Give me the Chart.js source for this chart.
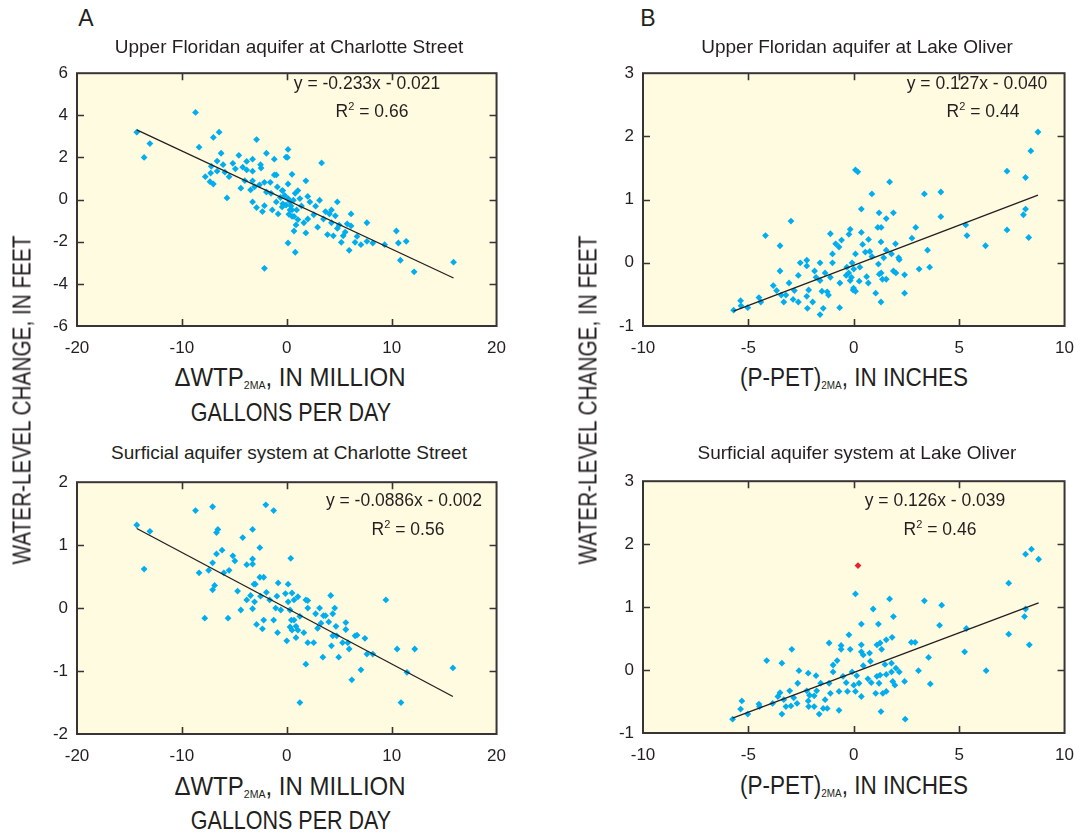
<!DOCTYPE html>
<html>
<head>
<meta charset="utf-8">
<script src="https://cdn.jsdelivr.net/npm/chart.js@4.4.0/dist/chart.umd.min.js"></script>
<style>
body{margin:0;background:#fff;width:1086px;height:835px;position:relative;overflow:hidden;font-family:"Liberation Sans",Arial,sans-serif;color:#231f20}
canvas{position:absolute}
.t{position:absolute;transform:translate(-50%,-50%);white-space:nowrap;line-height:1}
.ttl{font-size:19px}
.eq{font-size:17.5px}
.ax{font-size:25px}
.yt{transform:translate(-50%,-50%) rotate(-90deg) scaleX(0.83)}
.sub{font-size:11px;vertical-align:-3px}
.sup{font-size:11px;vertical-align:7px}
</style>
</head>
<body>
<canvas id="tl"></canvas>
<canvas id="tr"></canvas>
<canvas id="bl"></canvas>
<canvas id="br"></canvas>

<div class="t" style="left:86px;top:18px;font-size:23px">A</div>
<div class="t" style="left:648px;top:18px;font-size:23px">B</div>

<div class="t ttl" style="left:289px;top:46px">Upper Floridan aquifer at Charlotte Street</div>
<div class="t ttl" style="left:857px;top:46px">Upper Floridan aquifer at Lake Oliver</div>
<div class="t ttl" style="left:289px;top:452px">Surficial aquifer system at Charlotte Street</div>
<div class="t ttl" style="left:857px;top:452px">Surficial aquifer system at Lake Oliver</div>

<div class="t eq" style="left:367px;top:84px">y = -0.233x - 0.021</div>
<div class="t eq" style="left:372px;top:111px">R<span class="sup">2</span> = 0.66</div>
<div class="t eq" style="left:977px;top:84px">y = 0.127x - 0.040</div>
<div class="t eq" style="left:983px;top:111px">R<span class="sup">2</span> = 0.44</div>
<div class="t eq" style="left:404px;top:501px">y = -0.0886x - 0.002</div>
<div class="t eq" style="left:408px;top:529px">R<span class="sup">2</span> = 0.56</div>
<div class="t eq" style="left:935px;top:501px">y = 0.126x - 0.039</div>
<div class="t eq" style="left:940px;top:529px">R<span class="sup">2</span> = 0.46</div>

<div class="t ax" style="left:290px;top:378px;transform:translate(-50%,-50%) scaleX(0.96)">&Delta;WTP<span class="sub">2MA</span>, IN MILLION</div>
<div class="t ax" style="left:291px;top:412px;transform:translate(-50%,-50%) scaleX(0.86)">GALLONS PER DAY</div>
<div class="t ax" style="left:290px;top:787px;transform:translate(-50%,-50%) scaleX(0.96)">&Delta;WTP<span class="sub">2MA</span>, IN MILLION</div>
<div class="t ax" style="left:291px;top:820px;transform:translate(-50%,-50%) scaleX(0.86)">GALLONS PER DAY</div>
<div class="t ax" style="left:854px;top:378px;transform:translate(-50%,-50%) scaleX(0.9)">(P-PET)<span class="sub">2MA</span>, IN INCHES</div>
<div class="t ax" style="left:854px;top:786px;transform:translate(-50%,-50%) scaleX(0.9)">(P-PET)<span class="sub">2MA</span>, IN INCHES</div>

<div class="t ax yt" style="left:22px;top:400px">WATER-LEVEL CHANGE, IN FEET</div>
<div class="t ax yt" style="left:588px;top:400px">WATER-LEVEL CHANGE, IN FEET</div>

<script>
// ---- data ----
// Upper Floridan aquifer at Charlotte Street: [dWTP, change]
const ufaCharlotte = [
  [-14.3,3.2],[-13.6,2.0],[-13.05,2.66],[-8.7,4.14],[-8.36,2.49],[-7.0,2.95],[-6.45,3.2],[-6.26,2.2],[-6.64,1.83],[-7.2,1.58],
  [-7.77,1.09],[-7.26,1.26],[-7.32,0.85],[-7.0,0.74],[-6.64,1.35],[-6.07,1.66],[-5.7,0.08],[-5.5,1.09],[-5.14,1.72],[-4.9,1.46],
  [-4.57,2.1],[-4.38,0.54],[-4.2,1.54],[-3.82,1.81],[-3.82,1.41],[-3.26,1.92],[-3.26,1.35],[-2.88,2.85],[-3.26,0.89],[-3.45,0.46],
  [-3.07,0.61],[-2.5,1.66],[-2.45,1.5],[-1.94,2.2],[-2.13,0.82],[-1.94,0.36],[-3.26,-0.11],[-2.88,-0.38],[-2.32,-0.57],[-2.13,-0.29],
  [-1.57,0.82],[-1.38,-0.49],[-1.19,1.92],[-1.19,1.17],[-1.0,1.17],[-1.0,-0.11],[-0.82,-0.68],[-0.44,0.43],[-0.38,0.43],[-0.07,2.02],
  [0.12,2.38],[0.5,1.2],[0.12,0.74],[0.12,-2.06],[0.81,-2.5],[-2.13,-3.26],[0.69,-1.49],[0.5,-0.8],[0.31,-0.49],[-0.38,-0.2],
  [-0.44,-0.35],[-0.07,-0.26],[0.06,2.0],[1.06,0.43],[1.82,0.89],[3.32,1.74],[0.13,0.05],[0.63,-0.03],[1.25,0.05],[2.0,0.15],
  [2.2,-0.11],[3.13,-0.03],[4.82,-0.11],[0.5,-0.49],[0.94,-0.49],[0.69,-0.8],[1.06,-0.95],[0.88,-1.2],[1.63,-1.1],[1.82,-1.58],
  [2.0,-0.92],[2.57,-0.72],[2.75,-0.31],[2.94,-1.31],[3.5,-0.92],[3.69,-0.57],[4.07,-0.68],[4.26,-0.49],[4.63,-0.77],[4.26,-1.1],
  [3.88,-1.66],[4.44,-1.72],[4.82,-1.37],[5.0,-1.21],[5.2,-2.03],[5.38,-1.72],[5.57,-1.54],[5.76,-1.15],[5.95,-2.41],[6.13,-1.25],
  [6.13,-0.68],[6.51,-2.03],[6.7,-1.75],[7.07,-2.14],[7.64,-1.1],[7.64,-1.98],[8.2,-2.06],[9.33,-2.14],[10.45,-1.49],[10.64,-2.06],
  [10.83,-2.88],[11.39,-1.98],[12.14,-3.43],[15.9,-2.97],
  [0.3,-0.1],[-0.2,0.2],[0.4,-0.3],[-0.6,0.1],[0.2,-0.7],[0.8,0.3],[-1.5,0.3],[-0.9,0.6],[1.4,-0.3],[-2.6,0.7],[-4.0,0.9],[-5.9,1.3]
];
const ufaCharlotteFit = [[-14.3,3.31],[15.9,-3.72]];

// Upper Floridan aquifer at Lake Oliver: [P-PET, change]
const ufaOliver = [
  [-5.7,-0.75],[-5.37,-0.6],[-5.35,-0.68],[-5.03,-0.71],[-4.5,-0.55],[-4.41,-0.62],[-4.19,0.43],[-3.82,-0.36],[-3.66,-0.44],[-3.5,-0.13],
  [-3.5,0.27],[-3.44,-0.51],[-3.32,-0.62],[-3.22,-0.51],[-3.07,-0.32],[-2.98,0.66],[-2.88,-0.58],[-2.82,-0.44],[-2.63,-0.62],[-2.63,-0.2],
  [-2.54,0.0],[-2.23,0.04],[-2.23,-0.05],[-2.23,-0.53],[-2.2,-0.72],[-2.14,-0.43],[-1.95,-0.62],[-1.86,-0.13],[-1.79,-0.23],[-1.6,0.0],
  [-1.6,-0.82],[-1.6,-0.28],[-1.51,-0.45],[-1.45,-0.72],[-1.36,-0.16],[-1.26,-0.46],[-1.2,-0.51],[-1.11,0.46],[-1.11,-0.23],[-1.01,0.14],
  [-1.01,0.0],[-0.86,0.3],[-0.7,0.25],[-0.67,-0.71],[-0.66,-0.32],[-0.58,0.36],[-0.36,-0.2],[-0.23,0.45],[-0.17,0.53],[-0.08,0.0],
  [0.08,1.47],[0.08,0.14],[-0.03,-0.43],[-0.17,-0.28],[0.19,1.44],[0.86,1.09],[0.36,0.85],[1.7,1.28],[1.2,0.79],[1.88,0.79],
  [1.54,0.7],[1.14,0.56],[1.3,0.56],[0.36,0.48],[0.7,0.37],[0.42,0.29],[1.29,0.33],[1.98,0.3],[0.55,0.17],[0.76,0.18],
  [0.86,0.1],[1.54,0.2],[1.79,0.14],[2.16,0.05],[2.13,0.08],[2.94,0.56],[2.76,0.39],[3.35,1.09],[3.5,0.2],[4.13,1.12],
  [4.13,0.73],[3.1,-0.1],[3.6,-0.07],[2.41,-0.19],[2.41,-0.48],[1.29,-0.62],[1.04,-0.48],[0.08,-0.45],[-0.01,-0.4],[0.26,-0.29],
  [0.69,-0.32],[0.61,-0.22],[1.21,-0.18],[1.17,-0.02],[1.3,-0.16],[1.36,-0.26],[1.54,-0.26],[1.42,0.08],[1.88,-0.13],[2.0,-0.16],
  [-0.11,-0.23],[-0.33,-0.07],[-0.24,-0.16],[0.29,-0.07],[0.0,-0.1],[5.31,0.6],[5.37,0.43],[6.25,0.27],[7.27,1.45],[7.27,0.52],
  [8.15,1.35],[8.05,0.76],[8.15,0.85],[8.3,0.4],[8.4,1.77],[8.74,2.07]
];
const ufaOliverFit = [[-5.7,-0.764],[8.74,1.07]];

// Surficial aquifer system at Charlotte Street
const sasCharlotte = [
  [-14.3,1.32],[-13.6,0.62],[-13.05,1.22],[-8.7,1.55],[-7.07,1.61],[-8.36,0.56],[-7.82,-0.16],[-7.07,0.29],[-6.88,0.36],[-7.45,0.6],
  [-7.07,0.72],[-6.7,0.86],[-6.17,0.92],[-6.7,1.2],[-6.57,1.25],[-6.0,0.56],[-5.6,-0.16],[-5.5,0.6],[-5.14,0.83],[-4.95,0.75],
  [-4.69,0.27],[-4.38,-0.03],[-4.2,1.12],[-3.82,0.69],[-3.82,0.13],[-3.45,0.2],[-3.26,1.25],[-3.26,0.78],[-3.26,0.7],[-3.13,0.38],
  [-3.0,0.38],[-3.07,0.1],[-3.26,-0.01],[-2.88,-0.26],[-2.57,0.96],[-2.57,0.49],[-2.2,0.49],[-2.5,0.19],[-2.32,-0.33],[-2.2,-0.19],
  [-2.0,1.64],[-1.25,1.55],[-1.94,0.25],[-1.63,0.13],[-1.25,-0.19],[-1.06,0.0],[-0.94,0.19],[-0.88,-0.39],[-0.82,0.4],[-0.57,-0.03],
  [-0.13,0.23],[0.0,-0.52],[0.13,0.38],[0.38,0.79],[0.31,-0.3],[0.44,-0.19],[0.5,0.24],[0.69,0.13],[1.06,0.18],[0.13,0.1],
  [0.31,-0.03],[0.69,-0.19],[0.88,-0.29],[0.5,-0.35],[1.25,-0.13],[1.06,-0.35],[0.88,-0.47],[1.63,-0.39],[2.0,0.12],[2.0,0.0],
  [1.82,0.13],[2.0,-0.55],[2.57,-0.55],[2.75,-0.09],[2.94,-0.32],[3.13,0.0],[3.26,-0.24],[3.5,-0.12],[3.69,-0.12],[4.0,-0.22],
  [4.19,0.2],[4.38,-0.09],[4.57,0.0],[4.38,-0.44],[4.26,-0.6],[4.69,-0.29],[4.76,-0.44],[3.44,-0.78],[1.82,-0.89],[1.25,-1.5],
  [4.95,-0.78],[5.32,-0.55],[5.63,-0.23],[5.63,-0.34],[5.82,-0.55],[5.95,-0.65],[6.2,-1.14],[6.51,-0.44],[6.7,-0.43],[7.07,-0.98],
  [7.45,-0.48],[7.64,-0.73],[8.2,-0.73],[9.45,0.13],[10.52,-0.65],[10.89,-1.5],[11.46,-1.02],[12.2,-0.65],[15.84,-0.95]
];
const sasCharlotteFit = [[-14.3,1.265],[15.84,-1.405]];

// Surficial aquifer system at Lake Oliver
const sasOliver = [
  [-5.75,-0.78],[-5.37,-0.62],[-5.31,-0.49],[-5.03,-0.7],[-4.5,-0.54],[-4.47,-0.58],[-4.13,0.15],[-3.85,-0.53],[-3.6,-0.42],[-3.5,-0.36],
  [-3.41,0.11],[-3.41,-0.7],[-3.32,-0.47],[-3.22,-0.58],[-3.04,-0.33],[-2.98,-0.57],[-2.94,0.33],[-2.85,-0.44],[-2.69,-0.53],[-2.66,-0.21],
  [-2.6,-0.01],[-2.23,-0.33],[-2.16,-0.05],[-2.16,-0.49],[-2.14,-0.58],[-2.1,-0.4],[-1.88,-0.58],[-1.88,-0.41],[-1.79,-0.09],[-1.76,-0.33],
  [-1.64,-0.7],[-1.57,-0.21],[-1.45,-0.61],[-1.36,-0.47],[-1.26,-0.61],[-1.17,-0.21],[-1.17,0.43],[-1.11,-0.37],[-0.98,-0.03],[-0.98,0.08],
  [-0.79,0.15],[-0.7,-0.64],[-0.7,-0.34],[-0.6,0.33],[-0.6,0.39],[-0.51,-0.1],[-0.36,-0.2],[-0.3,-0.34],[-0.17,0.33],[-0.23,0.56],
  [-0.08,-0.03],[0.08,1.21],[0.36,0.73],[0.36,0.4],[0.36,0.29],[0.45,0.24],[0.75,0.27],[0.79,0.14],[0.45,0.07],[0.92,0.97],
  [1.17,0.73],[1.7,1.13],[1.88,0.85],[1.1,0.4],[1.25,0.43],[1.32,0.33],[1.54,0.48],[1.82,0.52],[1.48,0.09],[1.79,0.11],
  [2.0,0.03],[2.16,-0.03],[2.41,-0.18],[1.79,-0.03],[1.54,-0.07],[1.25,-0.08],[1.1,-0.1],[0.67,-0.14],[0.83,-0.2],[1.04,-0.37],
  [1.2,-0.21],[1.38,-0.37],[1.54,-0.34],[1.85,-0.18],[1.95,-0.24],[1.29,-0.66],[2.44,-0.78],[0.14,-0.09],[0.0,-0.24],[0.25,-0.21],
  [0.36,-0.42],[0.08,-0.34],[2.73,0.44],[2.91,0.44],[3.55,0.2],[3.07,-0.01],[3.35,1.1],[3.63,-0.22],[4.07,0.71],[4.17,1.03],
  [5.26,0.29],[5.34,0.66],[6.28,-0.01],[7.35,1.38],[7.35,0.57],[8.1,0.85],[8.15,0.97],[8.33,0.4],[8.15,1.84],[8.43,1.92],[8.77,1.76]
];
const sasOliverOutlier = [[0.2,1.66]];
const sasOliverFit = [[-5.75,-0.764],[8.77,1.066]];

// tick labels
const wtpTicks = [-20, -10, 0, 10, 20];
const petTicks = [-10, -5, 0, 5, 10];
const ufaCharlotteYTicks = [-6, -4, -2, 0, 2, 4, 6];
const sasCharlotteYTicks = [-2, -1, 0, 1, 2];
const oliverYTicks = [-1, 0, 1, 2, 3];

// ---- drawing ----
const INK = '#231f20';
const TICK_FONT = { family: '"Liberation Sans", Arial, sans-serif', size: 17 };

// pale plot background, dark frame and inward tick marks on all four sides
const framePlugin = {
  id: 'frame',
  beforeDatasetsDraw(chart) {
    const a = chart.chartArea, ctx = chart.ctx;
    ctx.save();
    ctx.fillStyle = '#fffbe0';
    ctx.fillRect(a.left, a.top, a.right - a.left, a.bottom - a.top);
    ctx.restore();
  },
  afterDraw(chart) {
    const a = chart.chartArea, ctx = chart.ctx;
    const xs = chart.scales.x, ys = chart.scales.y;
    const len = 7;
    ctx.save();
    ctx.strokeStyle = '#3a3335';
    ctx.lineWidth = 1.6;
    ctx.beginPath();
    xs.ticks.forEach(t => {
      if (t.value === xs.min || t.value === xs.max) return;
      const px = Math.round(xs.getPixelForValue(t.value)) + 0.5;
      ctx.moveTo(px, a.bottom); ctx.lineTo(px, a.bottom - len);
      ctx.moveTo(px, a.top); ctx.lineTo(px, a.top + len);
    });
    ys.ticks.forEach(t => {
      if (t.value === ys.min || t.value === ys.max) return;
      const py = Math.round(ys.getPixelForValue(t.value)) + 0.5;
      ctx.moveTo(a.left, py); ctx.lineTo(a.left + len, py);
      ctx.moveTo(a.right, py); ctx.lineTo(a.right - len, py);
    });
    ctx.stroke();
    ctx.lineWidth = 2;
    ctx.strokeRect(a.left, a.top, a.right - a.left, a.bottom - a.top);
    ctx.restore();
  }
};

function toXY(arr) {
  return arr.map(p => ({ x: p[0], y: p[1] }));
}

function drawPanel(id, area, points, outliers, fit, xTicks, yTicks) {
  const padL = 45, padT = 12, padR = 15, padB = 35;
  const cv = document.getElementById(id);
  cv.width = (area.right - area.left) + padL + padR;
  cv.height = (area.bottom - area.top) + padT + padB;
  cv.style.left = (area.left - padL) + 'px';
  cv.style.top = (area.top - padT) + 'px';

  new Chart(cv, {
    type: 'scatter',
    data: {
      datasets: [
        { type: 'line', data: toXY(fit), borderColor: INK, borderWidth: 1.3, pointRadius: 0, fill: false },
        { data: toXY(outliers), pointStyle: 'rectRot', pointRadius: 3.4, backgroundColor: '#e8202a', borderWidth: 0 },
        { data: toXY(points), pointStyle: 'rectRot', pointRadius: 3.4, backgroundColor: '#00aeef', borderWidth: 0 }
      ]
    },
    options: {
      responsive: false,
      animation: false,
      events: [],
      layout: { padding: { left: 0, top: padT, right: padR, bottom: 0 } },
      plugins: { legend: { display: false }, tooltip: { enabled: false } },
      scales: {
        x: {
          type: 'linear',
          min: xTicks[0], max: xTicks[xTicks.length - 1],
          grid: { display: false, drawTicks: false },
          border: { display: false },
          afterBuildTicks: s => { s.ticks = xTicks.map(v => ({ value: v })); },
          afterFit: s => { s.height = padB; },
          ticks: { padding: 12, font: TICK_FONT, color: INK, maxRotation: 0, autoSkip: false }
        },
        y: {
          type: 'linear',
          min: yTicks[0], max: yTicks[yTicks.length - 1],
          grid: { display: false, drawTicks: false },
          border: { display: false },
          afterBuildTicks: s => { s.ticks = yTicks.map(v => ({ value: v })); },
          afterFit: s => { s.width = padL; },
          ticks: { padding: 9, font: TICK_FONT, color: INK, autoSkip: false }
        }
      }
    },
    plugins: [framePlugin]
  });
}

drawPanel('tl', { left: 77, top: 66, right: 503, bottom: 326 }, ufaCharlotte, [], ufaCharlotteFit, wtpTicks, ufaCharlotteYTicks);
drawPanel('tr', { left: 643, top: 66, right: 1071, bottom: 326 }, ufaOliver, [], ufaOliverFit, petTicks, oliverYTicks);
drawPanel('bl', { left: 77, top: 475, right: 503, bottom: 734 }, sasCharlotte, [], sasCharlotteFit, wtpTicks, sasCharlotteYTicks);
drawPanel('br', { left: 643, top: 474, right: 1071, bottom: 733 }, sasOliver, sasOliverOutlier, sasOliverFit, petTicks, oliverYTicks);
</script>
</body>
</html>
